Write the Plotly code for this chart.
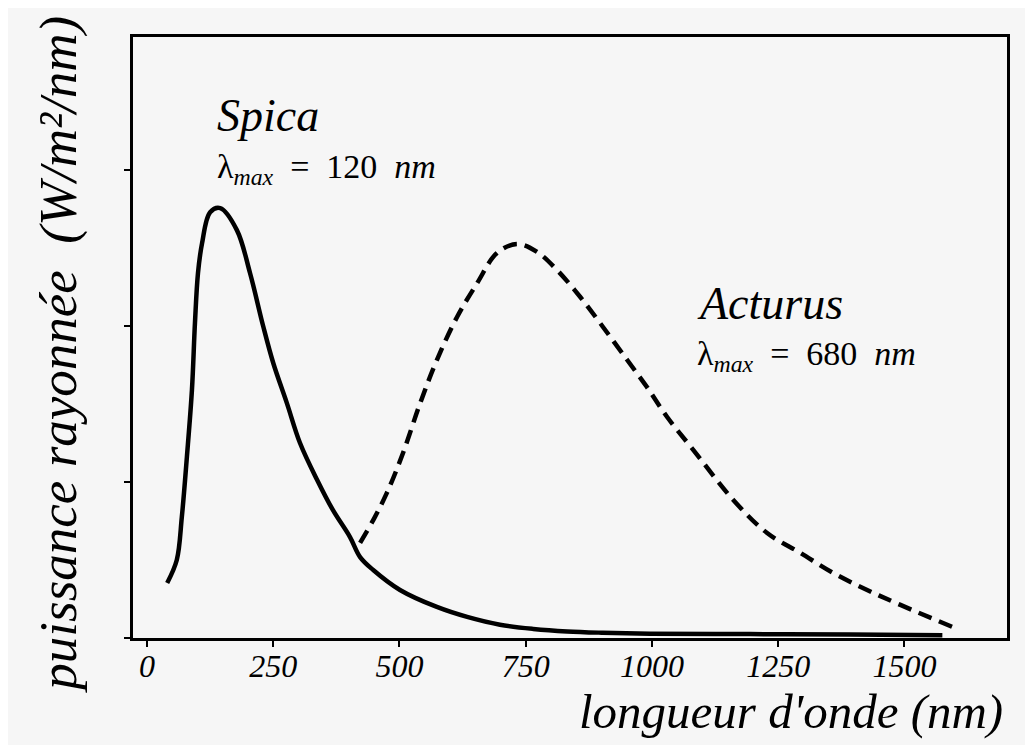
import plotly.graph_objects as go

# Spica (solid)
spica_x = [40, 59, 69, 79, 89, 95, 101, 109, 125, 145, 178, 204, 230, 250, 277, 303,
           337, 368, 402, 422, 448, 501, 574, 634, 699, 765, 832, 900, 996, 1194, 1393, 1575]
spica_y = [0.353, 0.50, 0.776, 1.16, 1.59, 2.02, 2.34, 2.53, 2.73, 2.756, 2.615, 2.34,
           2.0, 1.763, 1.506, 1.25, 1.013, 0.821, 0.647, 0.519, 0.436, 0.308, 0.199,
           0.135, 0.085, 0.058, 0.042, 0.034, 0.028, 0.025, 0.022, 0.018]

# Acturus (dashed)
act_x = [422, 448, 475, 507, 541, 574, 614, 654, 693, 733, 773, 812, 858, 903, 951,
         990, 1030, 1082, 1161, 1228, 1294, 1359, 1426, 1492, 1595]
act_y = [0.61, 0.756, 0.93, 1.186, 1.506, 1.782, 2.058, 2.276, 2.468, 2.526, 2.474,
         2.359, 2.186, 1.994, 1.782, 1.609, 1.417, 1.205, 0.885, 0.673, 0.545, 0.417,
         0.308, 0.212, 0.071]

x_ticks = [0, 250, 500, 750, 1000, 1250, 1500]
y_ticks = [0, 1, 2, 3]

fig = go.Figure()
fig.add_trace(go.Scatter(x=spica_x, y=spica_y, mode="lines",
                         line=dict(color="black", width=4.5, shape="spline", smoothing=1.0),
                         showlegend=False, hoverinfo="skip"))
fig.add_trace(go.Scatter(x=act_x, y=act_y, mode="lines",
                         line=dict(color="black", width=4.5, dash="14px,8px", shape="spline", smoothing=1.0),
                         showlegend=False, hoverinfo="skip"))

serif = "Liberation Serif"
sp = "\u2002"
ann = []
ann.append(dict(text="<i>Spica</i>", x=0.094, y=0.87, xref="paper", yref="paper",
                xanchor="left", yanchor="middle", showarrow=False,
                font=dict(family=serif, size=46, color="black")))
ann.append(dict(text=f"λ<sub><i>max</i></sub>{sp}={sp}120{sp}<i>nm</i>", x=0.094, y=0.78,
                xref="paper", yref="paper", xanchor="left", yanchor="middle",
                showarrow=False, font=dict(family=serif, size=34, color="black")))
ann.append(dict(text="<i>Acturus</i>", x=0.643, y=0.557, xref="paper", yref="paper",
                xanchor="left", yanchor="middle", showarrow=False,
                font=dict(family=serif, size=46, color="black")))
ann.append(dict(text=f"λ<sub><i>max</i></sub>{sp}={sp}680{sp}<i>nm</i>", x=0.643, y=0.469,
                xref="paper", yref="paper", xanchor="left", yanchor="middle",
                showarrow=False, font=dict(family=serif, size=34, color="black")))
ann.append(dict(text="<i>longueur d'onde (nm)</i>", x=0.998, y=-0.123, xref="paper", yref="paper",
                xanchor="right", yanchor="middle", showarrow=False,
                font=dict(family=serif, size=49, color="black")))
ann.append(dict(text="<i>puissance rayonnée  (W/m²/nm)</i>", x=-0.085, y=0.471, xref="paper", yref="paper",
                xanchor="center", yanchor="middle", textangle=-90, showarrow=False,
                font=dict(family=serif, size=53, color="black")))

fig.update_layout(
    width=1025, height=737,
    margin=dict(l=125, r=26, t=29, b=107),
    paper_bgcolor="#f6f6f6", plot_bgcolor="#f6f6f6",
    annotations=ann,
)
fig.update_xaxes(range=[-27.7, 1703], tickvals=x_ticks, ticktext=[str(v) for v in x_ticks],
                 ticks="outside", ticklen=6, tickwidth=2, tickcolor="black",
                 showline=True, linecolor="black", linewidth=2.5, mirror=True,
                 showgrid=False, zeroline=False, ticklabelstandoff=-8,
                 tickfont=dict(family="Liberation Serif", size=32, color="black", style="italic"))
fig.update_yaxes(range=[0, 3.853], tickvals=y_ticks, showticklabels=False,
                 ticks="outside", ticklen=6, tickwidth=2, tickcolor="black",
                 showline=True, linecolor="black", linewidth=2.5, mirror=True,
                 showgrid=False, zeroline=False)

fig.write_html("out.html")
